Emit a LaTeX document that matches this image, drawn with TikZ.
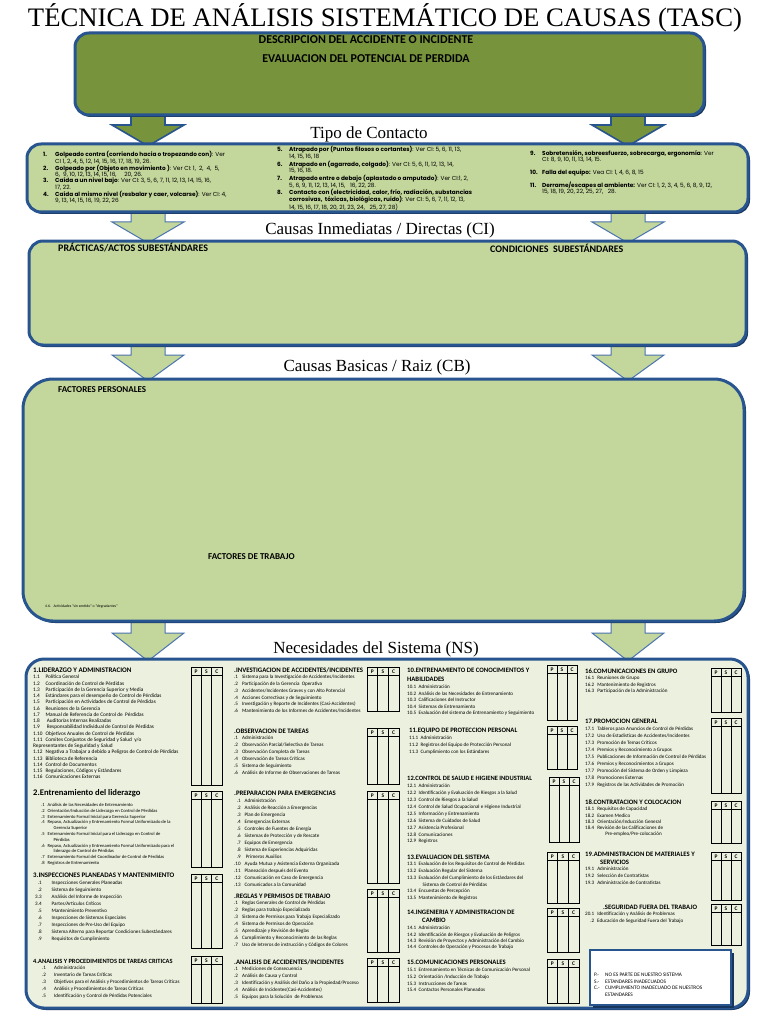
\documentclass[tikz,border=0pt]{standalone}
\usepackage{fontspec}
\usepackage{graphicx}
\setmainfont{Carlito}
\newfontfamily\ttlfont{Liberation Serif}
\newfontfamily\gothfont{Poppins}
\definecolor{oliveG}{HTML}{77933C}
\definecolor{lightG}{HTML}{C3D69B}
\definecolor{paleG}{HTML}{EBF1DE}
\definecolor{boxB}{HTML}{28548F}
\definecolor{shadowB}{HTML}{17365D}
\definecolor{arrowB}{HTML}{4A74B0}
\tikzset{
 panelline/.style={draw=boxB, line width=3pt},
 pscline/.style={draw=black, line width=0.9pt},
 psclabel/.style={inner sep=0pt, font=\bfseries\fontsize{5.5}{6}\selectfont},
 arrowdark/.style={fill=oliveG, draw=boxB, line width=1.6pt, line join=miter},
 arrowlight/.style={fill=lightG, draw=arrowB, line width=1pt, line join=miter},
 seclabel/.style={inner sep=0pt, font=\ttlfont\fontsize{17}{20}\selectfont},
 boldlabel/.style={inner sep=0pt, anchor=west, font=\bfseries\fontsize{9}{10}\selectfont},
}
\newcommand\barrow[6]{\draw[#6] (#2-17,#3) -- (#2+17,#3) -- (#2+17,#4) -- (#2+36,#4) -- (#2,#5) -- (#2-36,#4) -- (#2-17,#4) -- cycle; \coordinate (#1) at (#2,#5);}
\newcommand\panel[7]{%
 \fill[shadowB, rounded corners=#7pt] (#2+2,#3+2) rectangle (#4+2,#5+2);
 \draw[panelline, fill=#6, rounded corners=#7pt] (#2,#3) rectangle (#4,#5);
 \coordinate (#1) at ({(#2+#4)/2},{(#3+#5)/2});}
\newcommand\lst[6]{\node[anchor=north west,inner sep=0pt,font=\fontsize{#4}{#5}\selectfont] (#1) at (#2,{#3+0.3*#4-0.7*#5}) {#6};}
\newcommand\hdr[5]{\node[anchor=base west,inner sep=0pt,font=\bfseries\fontsize{#4}{#4}\selectfont] (#1) at (#2,{#3+0.33*#4}) {#5};}
\newcommand\psc[5]{%
 \draw[pscline] (#2,#3) rectangle (#4,#5);
 \draw[pscline] (#2,#3+8.5) -- (#4,#3+8.5);
 \draw[pscline] ({#2+(#4-#2)/3},#3) -- ({#2+(#4-#2)/3},#5);
 \draw[pscline] ({#2+2*(#4-#2)/3},#3) -- ({#2+2*(#4-#2)/3},#5);
 \node[psclabel] (#1p) at ({#2+(#4-#2)/6},#3+4.6) {P};
 \node[psclabel] (#1s) at ({#2+(#4-#2)/2},#3+4.6) {S};
 \node[psclabel] (#1c) at ({#2+5*(#4-#2)/6},#3+4.6) {C};}
\newcommand\tnum[1]{\makebox[12pt][l]{\textbf{#1}}}
\newcommand\tind{\hspace*{12pt}}
\begin{document}
\begin{tikzpicture}[x=1pt,y=-1pt]
\fill[white] (0,0) rectangle (768,1024);
\useasboundingbox (0,0) rectangle (768,1024);

% title
\node[inner sep=0pt, anchor=base] (title) at (385,27) {\resizebox{714pt}{!}{\ttlfont\fontsize{24}{28}\selectfont TÉCNICA DE ANÁLISIS SISTEMÁTICO DE CAUSAS (TASC)}};

% block arrows
\barrow{a1l}{148}{108}{125}{146}{arrowdark}
\barrow{a1r}{628}{108}{125}{146}{arrowdark}
\barrow{a2l}{148}{206}{222}{243}{arrowlight}
\barrow{a2r}{628}{206}{222}{243}{arrowlight}
\barrow{a3l}{148}{338}{355}{381}{arrowlight}
\barrow{a3r}{628}{338}{355}{381}{arrowlight}
\barrow{a4l}{148}{614}{633}{661}{arrowlight}
\barrow{a4r}{628}{614}{633}{661}{arrowlight}

% panels
\panel{p1}{75}{33}{704}{115}{oliveG}{14}
\panel{p2}{27}{144}{748}{212}{lightG}{14}
\panel{p3}{29}{241}{746}{345}{lightG}{14}
\panel{p4}{23}{379}{744}{621}{lightG}{30}
\panel{p5}{26}{659}{748}{1008}{paleG}{18}

% section labels
\node[seclabel] (l1) at (369,134) {Tipo de Contacto};
\node[seclabel] (l2) at (380,230) {Causas Inmediatas / Directas (CI)};
\node[seclabel] (l3) at (377,367) {Causas Basicas / Raiz (CB)};
\node[seclabel] (l4) at (376,649) {Necesidades del Sistema (NS)};

% box 1
\node[inner sep=0pt, font=\bfseries\fontsize{12}{13}\selectfont] (d1) at (366,40) {DESCRIPCION DEL ACCIDENTE O INCIDENTE};
\node[inner sep=0pt, font=\bfseries\fontsize{12}{13}\selectfont] (d2) at (366,59) {EVALUACION DEL POTENCIAL DE PERDIDA};

% box 2 : tipo de contacto
\node[anchor=north west, inner sep=0pt, font=\gothfont\fontsize{5.8}{6.1}\selectfont] (tc1) at (43,{154+0.3*5.8-0.7*6.1}) {\begin{tabular}{@{}l@{}}
\tnum{1.}\textbf{Golpeado contra (corriendo hacia o tropezando con)}: Ver\\
\tind CI 1, 2, 4, 5, 12, 14, 15, 16, 17, 18, 19, 26.\\
\tnum{2.}\textbf{Golpeado por (Objeto en movimiento )}: Ver CI: 1,\ \ 2,\ \ 4,\ \ 5,\\
\tind 6,\ \ 9, 10, 12, 13, 14, 15, 16,\ \ \ \ \ 20, 26.\\
\tnum{3.}\textbf{Caída a un nivel bajo}: Ver CI: 3, 5, 6, 7, 11, 12, 13, 14, 15, 16,\\
\tind 17, 22.\\
\tnum{4.}\textbf{Caída al mismo nivel (resbalar y caer, volcarse)}: Ver CI: 4,\\
\tind 9, 13, 14, 15, 16, 19, 22, 26
\end{tabular}};
\node[anchor=north west, inner sep=0pt, font=\gothfont\fontsize{5.8}{6.85}\selectfont] (tc2) at (277,{149.5+0.3*5.8-0.7*6.85}) {\begin{tabular}{@{}l@{}}
\tnum{5.}\textbf{Atrapado por (Puntos filosos o cortantes)}: Ver CI: 5, 6, 11, 13,\\
\tind 14, 15, 16, 18\\
\tnum{6.}\textbf{Atrapado en (agarrado, colgado)}: Ver CI: 5, 6, 11, 12, 13, 14,\\
\tind 15, 16, 18.\\
\tnum{7.}\textbf{Atrapado entre o debajo (aplastado o amputado)}: Ver CI:1, 2,\\
\tind 5, 6, 9, 11, 12, 13, 14, 15,\ \ \ 16, 22, 28.\\
\tnum{8.}\textbf{Contacto con (electricidad, calor, frío, radiación, substancias}\\
\tind\textbf{corrosivas,\ \ tóxicas, biológicas, ruido)}: Ver CI: 5, 6, 7, 11, 12, 13,\\
\tind 14, 15, 16, 17, 18, 20, 21, 23, 24,\ \ \ 25, 27, 28)
\end{tabular}};
\node[anchor=north west, inner sep=0pt, font=\gothfont\fontsize{5.8}{6.1}\selectfont] (tc3) at (530,{153+0.3*5.8-0.7*6.1}) {\begin{tabular}{@{}l@{}}
\tnum{9.}\textbf{Sobretensión, sobreesfuerzo, sobrecarga, ergonomía}: Ver\\
\tind CI: 8, 9, 10, 11, 13, 14, 15.\\
\mbox{}\\
\tnum{10.}\textbf{Falla del equipo:} Vea CI: 1, 4, 6, 8, 15\\
\mbox{}\\
\tnum{11.}\textbf{Derrame/escapes al ambiente:} Ver CI: 1, 2, 3, 4, 5, 6, 8, 9, 12,\\
\tind 15, 18, 19, 20, 22, 25, 27,\ \ \ 28.
\end{tabular}};

% box 3
\node[boldlabel, font=\bfseries\fontsize{10}{11}\selectfont] (ci1) at (58,248) {PRÁCTICAS/ACTOS SUBESTÁNDARES};
\node[boldlabel, font=\bfseries\fontsize{10}{11}\selectfont] (ci2) at (490,248) {CONDICIONES\ \ SUBESTÁNDARES};

% box 4
\node[boldlabel] (cb1) at (58,390) {FACTORES PERSONALES};
\node[boldlabel] (cb2) at (208,557) {FACTORES DE TRABAJO};
\node[inner sep=0pt, anchor=west, font=\fontsize{3.8}{4}\selectfont] (cb3) at (45,606) {4.6.\ \ \ Actividades “sin sentido” o “degradantes”};

% ===== NS column A =====
\hdr{h1}{33}{670}{7}{1.LIDERAZGO Y ADMINISTRACION}
\lst{s1}{33}{677}{5.3}{6.25}{\begin{tabular}{@{}l@{\hspace{3pt}}l@{}}
1.1 & Política General\\
1.2 & Coordinación de Control de Pérdidas\\
1.3 & Participación de la Gerencia Superior y Media\\
1.4 & Estándares para el desempeño de Control de Pérdidas\\
1.5 & Participación en Actividades de Control de Pérdidas\\
1.6 & Reuniones de la Gerencia\\
1.7 & Manual de Referencia de Control de\ \ Pérdidas\\
1.8 & \ Auditorías Internas Realizadas\\
1.9 & \ Responsabilidad Individual de Control de Pérdidas\\
1.10 & Objetivos Anuales de Control de Pérdidas\\
1.11 & Comites Conjuntos de Seguridad y Salud\ \ y/o\\
\multicolumn{2}{@{}l@{}}{Representantes de Seguridad y Salud}\\
1.12 & Negativa a Trabajar a debido a Peligros de Control de Pérdidas\\
1.13 & Biblioteca de Referencia\\
1.14 & Control de Documentos\\
1.15 & Regulaciones, Códigos y Estándares\\
1.16 & Comunicaciones Externas
\end{tabular}}
\hdr{h2}{33}{793}{8.6}{2.Entrenamiento del liderazgo}
\lst{s2}{41}{805}{4.6}{5.8}{\begin{tabular}{@{}l@{\hspace{3pt}}l@{}}
.1 & Análisis de las Necesidades de Entrenamiento\\
.2 & Orientación/Inducción de Liderazgo en Control de Pérdidas\\
.3 & Entrenamiento Formal Inicial para Gerencia Superior\\
.4 & Repaso, Actualización y Entrenamiento Formal Uniformizado de la\\
 & \hspace*{6pt}Gerencia Superior\\
.5 & Entrenamiento Formal Inicial para el Liderazgo en Control de\\
 & \hspace*{6pt}Pérdidas\\
.6 & Repaso, Actualización y Entrenamiento Formal Uniformizado para el\\
 & \hspace*{6pt}liderazgo de Control de Pérdidas\\
.7 & Entrenamiento Formal del Coordinador de Control de Pérdidas\\
.8 & Registros de Entrenamiento
\end{tabular}}
\hdr{h3}{33}{875}{6.9}{3.INSPECCIONES PLANEADAS Y MANTENIMIENTO}
\lst{s3}{35}{883}{5.1}{7}{\begin{tabular}{@{}r@{\hspace{10pt}}l@{}}
.1 & Inspecciones Generales Planeadas\\
.2 & Sistema de Seguimiento\\
3.3 & Análisis del Informe de Inspección\\
3.4 & Partes/Artículos Críticos\\
.5 & Mantenimiento Preventivo\\
.6 & Inspecciones de Sistemas Especiales\\
.7 & Inspecciones de Pre-Uso del Equipo\\
.8 & Sistema Alterno para Reportar Condiciones Subestándares\\
.9 & Requisitos de Cumplimiento
\end{tabular}}
\hdr{h4}{33}{961}{6.4}{4.ANALISIS Y PROCEDIMIENTOS DE TAREAS CRITICAS}
\lst{s4}{42}{968}{5.1}{7}{\begin{tabular}{@{}r@{\hspace{8pt}}l@{}}
.1 & Administración\\
.2 & Inventario de Tareas Críticas\\
.3 & Objetivos para el Análisis y Procedimientos de Tareas Críticas\\
.4 & Análisis y Procedimientos de Tareas Críticas\\
.5 & Identificación y Control de Pérdidas Potenciales
\end{tabular}}

% ===== NS column B =====
\hdr{h5}{234}{670}{6.8}{.INVESTIGACION DE ACCIDENTES/INCIDENTES}
\lst{s5}{234}{677}{5.1}{6.8}{\begin{tabular}{@{}r@{\hspace{4pt}}l@{}}
.1 & Sistema para la Investigación de Accidentes/Incidentes\\
.2 & Participación de la Gerencia\ \ Operativa\\
.3 & Accidentes/Incidentes Graves y con Alto Potencial\\
.4 & Acciones Correctivas y de Seguimiento\\
.5 & Investigación y Reporte de Incidentes (Casi-Accidentes)\\
.6 & Mantenimiento de los Informes de Accidentes/Incidentes
\end{tabular}}
\hdr{h6}{234}{731}{6.8}{.OBSERVACION DE TAREAS}
\lst{s6}{234}{738}{5.1}{7}{\begin{tabular}{@{}r@{\hspace{4pt}}l@{}}
.1 & Administración\\
.2 & Observación Parcial/Selectiva de Tareas\\
.3 & Observación Completa de Tareas\\
.4 & Observación de Tareas Críticas\\
.5 & Sistema de Seguimiento\\
.6 & Análisis de Informe de Observaciones de Tareas
\end{tabular}}
\hdr{h7}{234}{793}{6.8}{.PREPARACION PARA EMERGENCIAS}
\lst{s7}{234}{801}{5.1}{6.95}{\begin{tabular}{@{}r@{\hspace{4pt}}l@{}}
.1 & Administración\\
.2 & Análisis de Reacción a Emergencias\\
.3 & Plan de Emergencia\\
.4 & Emergencias Externas\\
.5 & Controles de Fuentes de Energía\\
.6 & Sistemas de Protección y de Rescate\\
.7 & Equipos de Emergencia\\
.8 & Sistema de Experiencias Adquiridas\\
.9 & \ Primeros Auxilios\\
.10 & Ayuda Mutua y Asistencia Externa Organizada\\
.11 & Planeación después del Evento\\
.12 & Comunicación en Caso de Emergencia\\
.13 & Comunicados a la Comunidad
\end{tabular}}
\hdr{h8}{234}{896}{6.8}{.REGLAS Y PERMISOS DE TRABAJO}
\lst{s8}{234}{903}{5.1}{7}{\begin{tabular}{@{}r@{\hspace{4pt}}l@{}}
.1 & Reglas Generales de Control de Pérdidas\\
.2 & Reglas para trabajo Especializado\\
.3 & Sistema de Permisos para Trabajo Especializado\\
.4 & Sistema de Permisos de Operación\\
.5 & Aprendizaje y Revisión de Reglas\\
.6 & Cumplimiento y Reconocimiento de las Reglas\\
.7 & Uso de letreros de instrucción y Códigos de Colores
\end{tabular}}
\hdr{h9}{234}{962}{6.8}{.ANALISIS DE ACCIDENTES/INCIDENTES}
\lst{s9}{234}{969}{5.1}{7}{\begin{tabular}{@{}r@{\hspace{4pt}}l@{}}
.1 & Mediciones de Consecuencia\\
.2 & Análisis de Causa y Control\\
.3 & Identificación y Análisis del Daño a la Propiedad/Proceso\\
.4 & Análisis de Incidentes(Casi-Accidentes)\\
.5 & Equipos para la Solución\ \ de Problemas
\end{tabular}}

% ===== NS column C =====
\hdr{h10a}{407}{670}{6.7}{10.ENTRENAMIENTO DE CONOCIMIENTOS Y}
\hdr{h10b}{407}{679}{6.7}{HABILIDADES}
\lst{s10}{407}{687}{5.1}{6.5}{\begin{tabular}{@{}l@{\hspace{2.5pt}}l@{}}
10.1 & Administración\\
10.2 & Análisis de las Necesidades de Entrenamiento\\
10.3 & Calificaciones del Instructor\\
10.4 & Sistemas de Entrenamiento\\
10.5 & Evaluación del sistema de Entrenamiento y Seguimiento
\end{tabular}}
\hdr{h11}{409}{730}{6.7}{11.EQUIPO DE PROTECCION PERSONAL}
\lst{s11}{409}{738}{5.1}{7}{\begin{tabular}{@{}l@{\hspace{2.5pt}}l@{}}
11.1 & Administración\\
11.2 & Registros del Equipo de Protección Personal\\
11.3 & Cumplimiento con los Estándares
\end{tabular}}
\hdr{h12}{407}{778}{6.5}{12.CONTROL DE SALUD E HIGIENE INDUSTRIAL}
\lst{s12}{407}{786}{5.1}{6.9}{\begin{tabular}{@{}l@{\hspace{2.5pt}}l@{}}
12.1 & Administración\\
12.2 & Identificación y Evaluación de Riesgos a la Salud\\
12.3 & Control de Riesgos a la Salud\\
12.4 & Control de Salud Ocupacional e Higiene Industrial\\
12.5 & Información y Entrenamiento\\
12.6 & Sistema de Cuidados de Salud\\
12.7 & Asistencia Profesional\\
12.8 & Comunicaciones\\
12.9 & Registros
\end{tabular}}
\hdr{h13}{407}{857}{6.7}{13.EVALUACION DEL SISTEMA}
\lst{s13}{407}{864}{5.1}{6.8}{\begin{tabular}{@{}l@{\hspace{2.5pt}}l@{}}
13.1 & Evaluación de los Requisitos de Control de Pérdidas\\
13.2 & Evaluación Regular del Sistema\\
13.3 & Evaluación del Cumplimiento de los Estándares del\\
 & \hspace*{4pt}Sistema de Control de Pérdidas\\
13.4 & Encuestas de Percepción\\
13.5 & Mantenimiento de Registros
\end{tabular}}
\hdr{h14a}{407}{912}{6.7}{14.INGENIERIA Y ADMINISTRACION DE}
\hdr{h14b}{422}{920}{6.7}{CAMBIO}
\lst{s14}{407}{928}{5.1}{6.4}{\begin{tabular}{@{}l@{\hspace{2.5pt}}l@{}}
14.1 & Administración\\
14.2 & Identificación de Riesgos y Evaluación de Peligros\\
14.3 & Revisión de Proyectos y Administración del Cambio\\
14.4 & Controles de Operación y Procesos de Trabajo
\end{tabular}}
\hdr{h15}{407}{962}{6.7}{15.COMUNICACIONES PERSONALES}
\lst{s15}{407}{970}{5.1}{6.7}{\begin{tabular}{@{}l@{\hspace{2.5pt}}l@{}}
15.1 & Entrenamiento en Técnicas de Comunicación Personal\\
15.2 & Orientación /Inducción de Trabajo\\
15.3 & Instrucciones de Tareas\\
15.4 & Contactos Personales Planeados
\end{tabular}}

% ===== NS column D =====
\hdr{h16}{585}{671}{6.7}{16.COMUNICACIONES EN GRUPO}
\lst{s16}{585}{678}{5.1}{6.5}{\begin{tabular}{@{}l@{\hspace{3pt}}l@{}}
16.1 & Reuniones de Grupo\\
16.2 & Mantenimiento de Registros\\
16.3 & Participación de la Administración
\end{tabular}}
\hdr{h17}{585}{721}{6.7}{17.PROMOCION GENERAL}
\lst{s17}{585}{729}{5.1}{7}{\begin{tabular}{@{}l@{\hspace{3pt}}l@{}}
17.1 & Tableros para Anuncios de Control de Pérdidas\\
17.2 & Uso de Estadísticas de Accidentes/Incidentes\\
17.3 & Promoción de Temas Críticos\\
17.4 & Premios y Reconocimiento a Grupos\\
17.5 & Publicaciones de Información de Control de Pérdidas\\
17.6 & Premios y Reconocimientos a Grupos\\
17.7 & Promoción del Sistema de Orden y Limpieza\\
17.8 & Promociones Externas\\
17.9 & Registros de las Actividades de Promoción
\end{tabular}}
\hdr{h18}{585}{802}{6.7}{18.CONTRATACION Y COLOCACION}
\lst{s18}{585}{809}{5.1}{6.3}{\begin{tabular}{@{}l@{\hspace{3pt}}l@{}}
18.1 & Requisitos de Capacidad\\
18.2 & Examen Medico\\
18.3 & Orientación/Inducción General\\
18.4 & Revisión de las Calificaciones de\\
 & \hspace*{8pt}Pre-empleo/Pre-colocación
\end{tabular}}
\hdr{h19a}{585}{854}{6.7}{19.ADMINISTRACION DE MATERIALES Y}
\hdr{h19b}{600}{862}{6.7}{SERVICIOS}
\lst{s19}{585}{869}{5.1}{7}{\begin{tabular}{@{}l@{\hspace{3pt}}l@{}}
19.1 & Administración\\
19.2 & Selección de Contratistas\\
19.3 & Administración de Contratistas
\end{tabular}}
\hdr{h20}{603}{907}{6.7}{.SEGURIDAD FUERA DEL TRABAJO}
\lst{s20}{585}{914}{5.1}{7}{\begin{tabular}{@{}r@{\hspace{3pt}}l@{}}
20.1 & Identificación y Análisis de Problemas\\
.2 & Educación de Seguridad Fuera del Trabajo
\end{tabular}}

% PSC tables
\psc{ta1}{191}{667}{222}{785}
\psc{ta2}{191}{791}{222}{867}
\psc{ta3}{191}{874}{222}{948}
\psc{ta4}{191}{956}{222}{1003}
\psc{tb1}{367}{667}{399}{711}
\psc{tb2}{367}{728}{399}{784}
\psc{tb3}{367}{791}{399}{883}
\psc{tb4}{367}{889}{399}{952}
\psc{tb5}{367}{958}{399}{1002}
\psc{tc1t}{547}{665}{577}{720}
\psc{tc2t}{547}{726}{577}{769}
\psc{tc3t}{549}{777}{579}{842}
\psc{tc4t}{547}{852}{579}{903}
\psc{tc5t}{547}{908}{579}{952}
\psc{tc6t}{547}{959}{579}{1003}
\psc{td1}{711}{668}{741}{712}
\psc{td2}{711}{718}{741}{793}
\psc{td3}{711}{801}{741}{843}
\psc{td4}{711}{852}{741}{900}
\psc{td5}{711}{904}{741}{945}

% legend
\fill[shadowB] (592.5,952.5) rectangle (734,1008);
\draw[draw=boxB, line width=1.4pt, fill=white] (590,950) rectangle (731,1005);
\lst{leg}{594}{975}{5.3}{6.4}{\begin{tabular}{@{}l@{}l@{}}
\makebox[11pt][l]{P.-} & NO ES PARTE DE NUESTRO SISTEMA\\
\makebox[11pt][l]{S.-} & ESTANDARES INADECUADOS\\
\makebox[11pt][l]{C.-} & CUMPLIMIENTO INADECUADO DE NUESTROS\\
 & ESTANDARES
\end{tabular}}
\end{tikzpicture}
\end{document}
